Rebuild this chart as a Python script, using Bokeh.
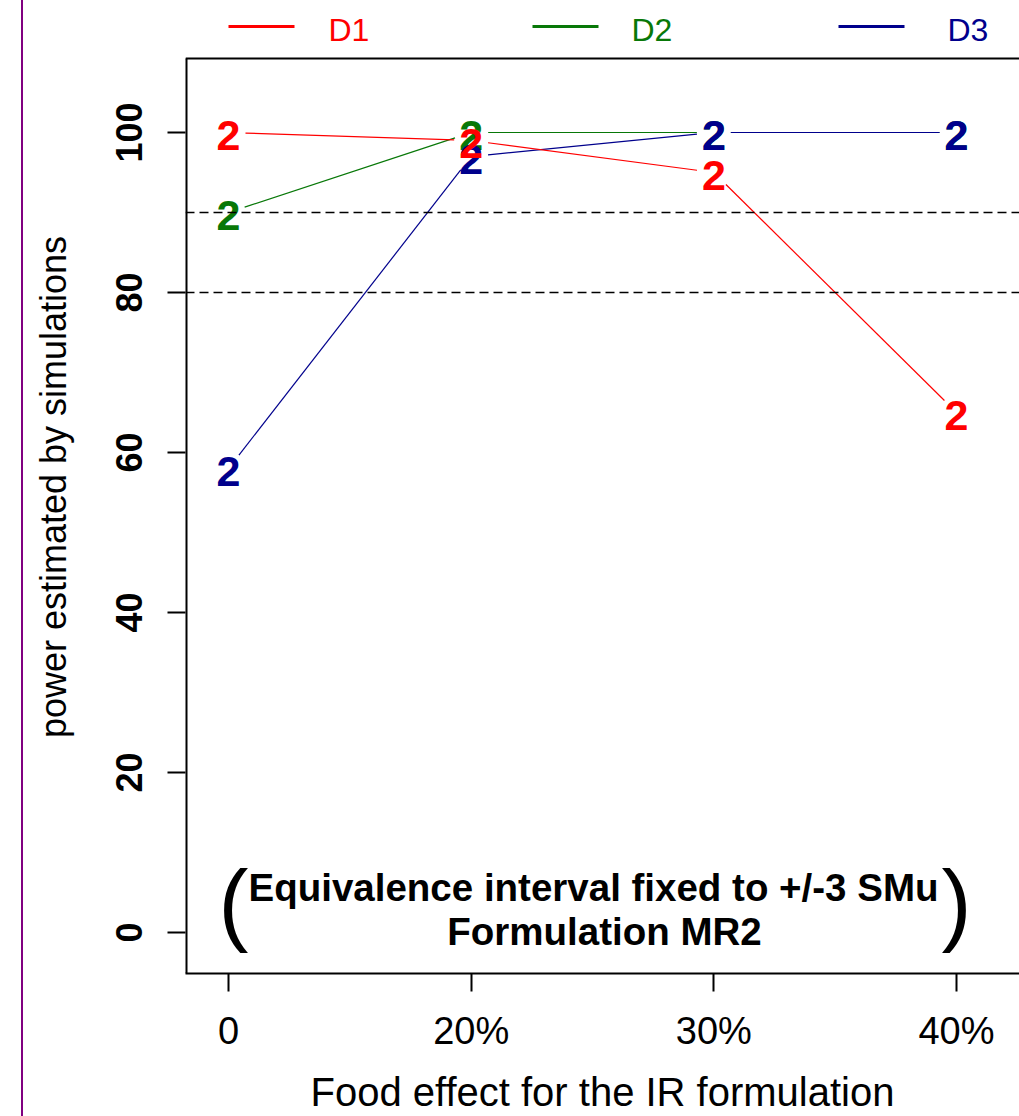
from bokeh.plotting import figure
from bokeh.models import Range1d, FixedTicker, Span, Div
from bokeh.layouts import row
from bokeh.embed import file_html
from bokeh.resources import INLINE
from bokeh.core.properties import value

# ---------------- data ----------------
categories = ["0", "20%", "30%", "40%"]
series_names = ["D1", "D2", "D3"]
d1 = [100, 99, 95, 65]
d2 = [90, 100, 100, 100]
d3 = [58, 97, 100, 100]
series_colors = ["#FF0000", "#087808", "#00008C"]
thresholds = [80, 90]
y_ticks = [0, 20, 40, 60, 80, 100]
marker_char = "2"
note_line1 = "Equivalence interval fixed to +/-3 SMu"
note_line2 = "Formulation MR2"
x_title = "Food effect for the IR formulation"
y_title = "power estimated by simulations"

FONT = "Liberation Sans"

# ---------------- layout constants ----------------
STRIP_W = 23
FIG_W = 1019 - STRIP_W
FIG_H = 1116
BORDER_L = 162
BORDER_B = 143
FRAME_W = FIG_W - BORDER_L
FRAME_H = FIG_H - BORDER_B
PAGE_FRAME_L = STRIP_W + BORDER_L   # page x of frame left
PAGE_FRAME_T = 0                    # page y of frame top
PX_PER_X = 242.67
X0 = 1 - 43 / PX_PER_X
X1 = X0 + FRAME_W / PX_PER_X
Y0 = -5.125
SY = 8.0
Y_TOP = Y0 + FRAME_H / SY
Y_BOX = 109.25          # top edge of the plot box
GAP = 17                # px gap around each point (type="b")

xs = list(range(1, len(categories) + 1))
series_values = [d1, d2, d3]

sx = FRAME_W / (X1 - X0)
sy = FRAME_H / (Y_TOP - Y0)


def px_x(page_x):
    return X0 + (page_x - PAGE_FRAME_L) / sx


def px_y(page_y):
    return Y_TOP - (page_y - PAGE_FRAME_T) / sy


def gapped(xv, yv):
    a, b, c, d = [], [], [], []
    for i in range(len(xv) - 1):
        dx = (xv[i + 1] - xv[i]) * sx
        dy = (yv[i + 1] - yv[i]) * sy
        L = (dx * dx + dy * dy) ** 0.5
        if L <= 2 * GAP:
            continue
        ux, uy = dx / L, dy / L
        a.append(xv[i] + GAP * ux / sx)
        b.append(yv[i] + GAP * uy / sy)
        c.append(xv[i + 1] - GAP * ux / sx)
        d.append(yv[i + 1] - GAP * uy / sy)
    return a, b, c, d


# ---------------- main plot ----------------
p = figure(width=FIG_W, height=FIG_H, x_range=Range1d(X0, X1), y_range=Range1d(Y0, Y_TOP),
           output_backend="svg", toolbar_location=None,
           min_border_left=BORDER_L, min_border_right=0, min_border_top=0,
           min_border_bottom=BORDER_B)
p.outline_line_color = None
p.grid.visible = False
p.background_fill_color = "white"
p.border_fill_color = "white"

xa = p.xaxis[0]
xa.ticker = FixedTicker(ticks=xs)
xa.major_label_overrides = {x: c for x, c in zip(xs, categories)}
xa.axis_label = x_title
ya = p.yaxis[0]
ya.ticker = FixedTicker(ticks=y_ticks)
ya.axis_label = y_title

for ax in (xa, ya):
    ax.axis_line_color = "black"
    ax.axis_line_width = 2
    ax.major_tick_line_color = "black"
    ax.major_tick_line_width = 2
    ax.major_tick_in = 0
    ax.major_tick_out = 18
    ax.minor_tick_in = 0
    ax.minor_tick_out = 0
    ax.major_label_text_font = FONT
    ax.major_label_text_color = "black"
    ax.axis_label_text_font = FONT
    ax.axis_label_text_font_style = "normal"
    ax.axis_label_text_color = "black"

ya.axis_line_color = None   # left box edge drawn below, only up to the box top

xa.major_label_text_font_size = "38px"
xa.major_label_standoff = 18
xa.axis_label_text_font_size = "40px"
xa.axis_label_standoff = 15

ya.major_label_text_font_size = "36px"
ya.major_label_text_font_style = "bold"
ya.major_label_orientation = "vertical"
ya.major_label_standoff = 26
ya.axis_label_text_font_size = "36px"
ya.axis_label_standoff = 39

# box: top edge and left edge
p.add_layout(Span(location=Y_BOX, dimension="width", line_color="black", line_width=2))
p.segment(x0=[X0], y0=[Y0], x1=[X0], y1=[Y_BOX], line_color="black", line_width=4)

for t in thresholds:
    p.add_layout(Span(location=t, dimension="width", line_color="black",
                      line_dash="9 5", line_width=1.5))

for i in [1, 2, 0]:
    yv = series_values[i]
    col = series_colors[i]
    a, b, c, d = gapped(xs, yv)
    p.segment(x0=a, y0=b, x1=c, y1=d, line_color=col, line_width=1.2)
    p.text(x=xs, y=yv, text=[marker_char] * len(xs), text_color=col,
           text_font=value(FONT), text_font_style="bold", text_font_size="43px",
           text_align="center", text_baseline="middle", y_offset=3)

# note with big parentheses
p.text(x=[px_x(593)], y=[px_y(887)], text=[note_line1], text_color="black",
       text_font=value(FONT), text_font_style="bold", text_font_size="38.5px",
       text_align="center", text_baseline="middle")
p.text(x=[px_x(604)], y=[px_y(931)], text=[note_line2], text_color="black",
       text_font=value(FONT), text_font_style="bold", text_font_size="38.5px",
       text_align="center", text_baseline="middle")
p.text(x=[px_x(233), px_x(956)], y=[px_y(902)] * 2, text=["(", ")"], text_color="black",
       text_font=value(FONT), text_font_size="90px", text_align="center",
       text_baseline="middle")

# legend strip (above the box, inside the drawing frame)
leg_line_x = [228, 532, 838]
leg_label_x = [328, 631, 947]
LEG_LEN = 66
p.segment(x0=[px_x(v) for v in leg_line_x], y0=[px_y(26)] * 3,
          x1=[px_x(v + LEG_LEN) for v in leg_line_x], y1=[px_y(26)] * 3,
          line_color=series_colors, line_width=3)
p.text(x=[px_x(v) for v in leg_label_x], y=[px_y(29.5)] * 3, text=series_names,
       text_color=series_colors, text_font=value(FONT), text_font_size="32px",
       text_align="left", text_baseline="middle")

strip = Div(text='<div style="margin-left:21px;width:2px;height:1116px;'
                 'background:#800080;"></div>',
            width=STRIP_W, height=FIG_H, margin=(0, 0, 0, 0))

layout = row(strip, p)

open("out.html", "w").write(file_html(layout, INLINE))
